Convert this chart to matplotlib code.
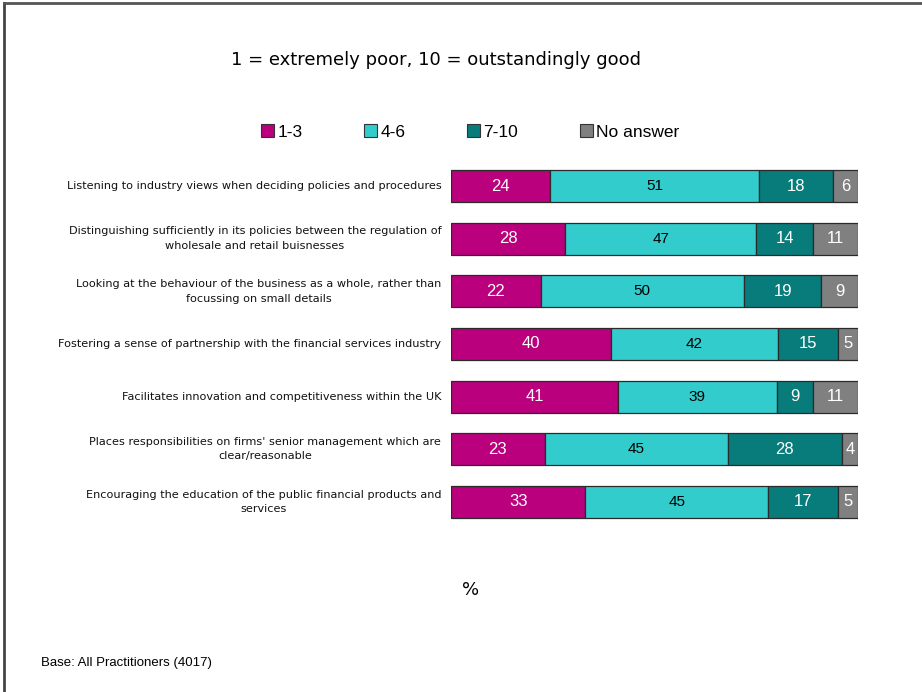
import numpy as np
import matplotlib.pyplot as plt
from matplotlib.lines import Line2D
from matplotlib.patches import Patch

statements = [
    'Listening to industry views when deciding policies and procedures',
    'Distinguishing sufficiently in its policies between the regulation of\nwholesale and retail buisnesses',
    'Looking at the behaviour of the business as a whole, rather than\nfocussing on small details',
    'Fostering a sense of partnership with the financial services industry',
    'Facilitates innovation and competitiveness within the UK',
    "Places responsibilities on firms' senior management which are\nclear/reasonable",
    'Encouraging the education of the public financial products and\nservices',
]
poor = [24, 28, 22, 40, 41, 23, 33]
middle = [51, 47, 50, 42, 39, 45, 45]
good = [18, 14, 19, 15, 9, 28, 17]
no_answer = [6, 11, 9, 5, 11, 4, 5]

series = [poor, middle, good, no_answer]
names = ['1-3', '4-6', '7-10', 'No answer']
colors = ['#BA007C', '#33CCCC', '#087B7B', '#808080']
text_colors = ['white', 'black', 'white', 'white']

fig = plt.figure(figsize=(9.22, 6.92), dpi=100)
ax = fig.add_axes([0.4892, 0.2366, 0.4414, 0.5326])

# 100% stacked: each row scaled by its own total
totals = np.sum(np.array(series), axis=0)
y = np.arange(len(statements))
left = np.zeros(len(statements))
for vals, col, tcol in zip(series, colors, text_colors):
    vals = np.array(vals)
    widths = vals / totals * 100
    ax.barh(y, widths, left=left, height=0.61, color=col,
            edgecolor='#2a2a2a', linewidth=0.9)
    for yi, l, w, v in zip(y, left, widths, vals):
        ax.text(l + w / 2, yi, str(v), ha='center', va='center',
                color=tcol, fontsize=12 if tcol == 'white' else 11,
                family='Liberation Sans')
    left += widths

ax.set_xlim(0, 100)
ax.set_ylim(len(statements) - 0.5, -0.5)
ax.axis('off')

for yi, s in zip(y, statements):
    ax.text(-2.4, yi, s, ha='right', va='center', multialignment='center',
            fontsize=8.15, family='DejaVu Sans', color='#111111',
            transform=ax.transData, linespacing=1.55)

fig.text(0.473, 0.913, '1 = extremely poor, 10 = outstandingly good',
         ha='center', va='center', fontsize=13, family='DejaVu Sans')
fig.text(0.510, 0.147, '%', ha='center', va='center', fontsize=13,
         family='DejaVu Sans')
fig.text(0.0445, 0.042, 'Base: All Practitioners (4017)', ha='left',
         va='center', fontsize=9.5, family='Liberation Sans')

handles = [Patch(facecolor=c, edgecolor='#333333', linewidth=0.8) for c in colors]
fig.legend(handles, names, loc='center', bbox_to_anchor=(0.510, 0.809),
           ncol=4, frameon=False, handlelength=0.75,
           handleheight=0.75, handletextpad=0.2, columnspacing=3.55,
           prop={'family': 'Liberation Sans', 'size': 12.5})

# page border along the top and left edges
fig.add_artist(Line2D([0.004, 0.004], [0, 0.996], transform=fig.transFigure,
                      color='#444444', linewidth=2))
fig.add_artist(Line2D([0.004, 1], [0.996, 0.996], transform=fig.transFigure,
                      color='#555555', linewidth=2))

fig.savefig('out.png', dpi=100)
